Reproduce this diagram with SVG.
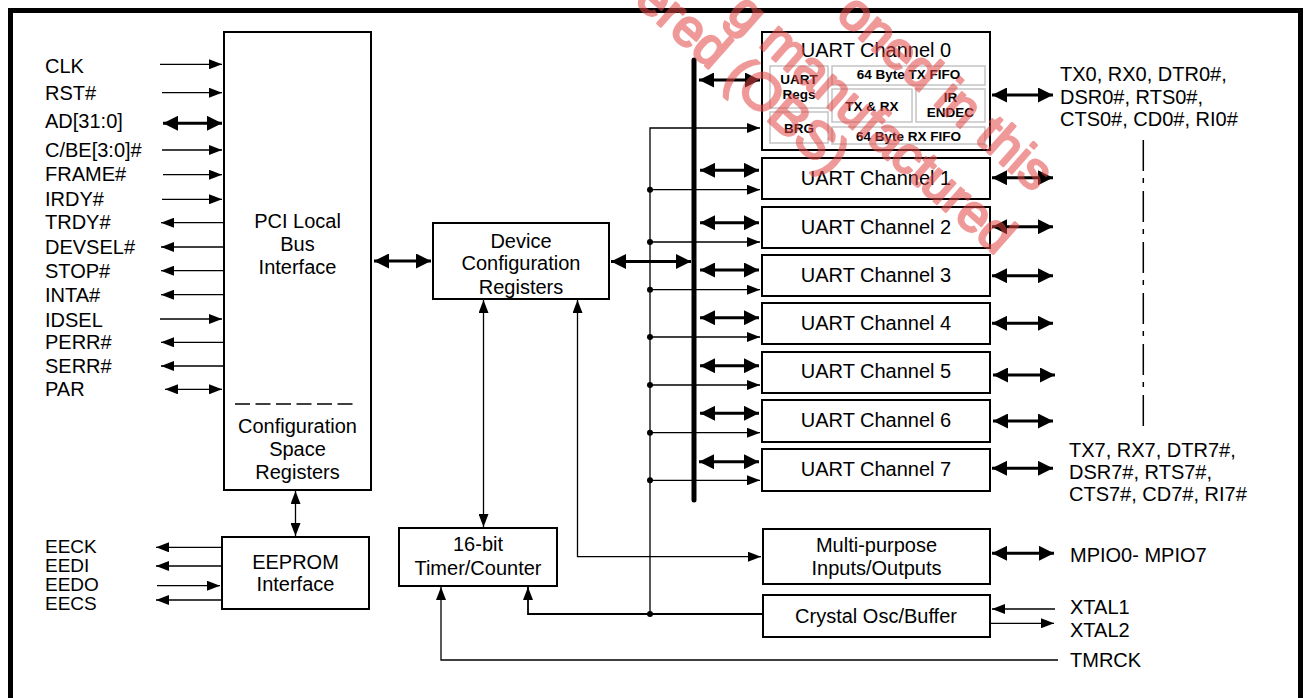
<svg xmlns="http://www.w3.org/2000/svg" width="1304" height="698" viewBox="0 0 1304 698">
<style>
.box{fill:#fff;stroke:#000;stroke-width:2}
.sub{fill:none;stroke:#c4c4c4;stroke-width:1.5}
.t{font-family:"Liberation Sans",Arial,sans-serif;font-size:20px;fill:#000}
.s{font-size:19px}
.c{text-anchor:middle}
.b{font-weight:bold;font-size:13.5px}
.ln{fill:none;stroke:#000;stroke-width:1.3}
.th{fill:none;stroke:#000;stroke-width:3}
.wm{font-family:"Liberation Sans",Arial,sans-serif;font-size:52px;fill:#e34646;stroke:#e34646;stroke-width:2.6;stroke-linejoin:round;text-anchor:end}
</style>
<defs>
<marker id="a" viewBox="0 0 13 10" refX="13" refY="5" markerWidth="13" markerHeight="10" markerUnits="userSpaceOnUse" orient="auto-start-reverse"><path d="M0,0 L13,5 L0,10 z" fill="#000"/></marker>
<marker id="ab" viewBox="0 0 15 15" refX="15" refY="7.5" markerWidth="15" markerHeight="15" markerUnits="userSpaceOnUse" orient="auto-start-reverse"><path d="M0,0 L15,7.5 L0,15 z" fill="#000"/></marker>
</defs>
<rect width="1304" height="698" fill="#fff"/>
<path d="M10.5,720 V10.5 H1300.5 V720" fill="none" stroke="#000" stroke-width="5"/>

<g id="pci">
<rect class="box" x="224" y="32" width="147" height="458"/>
<text class="t c" x="297.5" y="228">PCI Local</text>
<text class="t c" x="297.5" y="251">Bus</text>
<text class="t c" x="297.5" y="274">Interface</text>
<path d="M235,404 H358" stroke="#000" stroke-width="1.5" stroke-dasharray="15,5.5"/>
<text class="t c" x="297.5" y="433">Configuration</text>
<text class="t c" x="297.5" y="456">Space</text>
<text class="t c" x="297.5" y="479">Registers</text>
</g>

<g id="pins-left">
<text class="t" x="45" y="73">CLK</text>
<text class="t" x="45" y="100">RST#</text>
<text class="t" x="45" y="128">AD[31:0]</text>
<text class="t" x="45" y="157">C/BE[3:0]#</text>
<text class="t" x="45" y="181">FRAME#</text>
<text class="t" x="45" y="206">IRDY#</text>
<text class="t" x="45" y="229">TRDY#</text>
<text class="t" x="45" y="254">DEVSEL#</text>
<text class="t" x="45" y="278">STOP#</text>
<text class="t" x="45" y="302">INTA#</text>
<text class="t" x="45" y="327">IDSEL</text>
<text class="t" x="45" y="349">PERR#</text>
<text class="t" x="45" y="373">SERR#</text>
<text class="t" x="45" y="396">PAR</text>
<text class="t s" x="45" y="552.5">EECK</text>
<text class="t s" x="45" y="572">EEDI</text>
<text class="t s" x="45" y="591">EEDO</text>
<text class="t s" x="45" y="610">EECS</text>
</g>

<g id="dcr">
<rect class="box" x="433" y="223" width="176" height="76"/>
<text class="t c" x="521" y="248">Device</text>
<text class="t c" x="521" y="270">Configuration</text>
<text class="t c" x="521" y="294">Registers</text>
</g>

<g id="eeprom">
<rect class="box" x="222" y="537" width="147" height="72"/>
<text class="t c" x="295.5" y="568.5">EEPROM</text>
<text class="t c" x="295.5" y="591">Interface</text>
</g>

<g id="timer">
<rect class="box" x="399" y="528" width="158" height="58"/>
<text class="t c" x="478" y="551">16-bit</text>
<text class="t c" x="478" y="574.5">Timer/Counter</text>
</g>

<g id="uart0">
<rect class="box" x="762" y="32" width="228" height="118"/>
<text class="t c" x="876" y="57">UART Channel 0</text>
<rect class="sub" x="770" y="66" width="58" height="42"/>
<rect class="sub" x="770" y="112" width="58" height="31"/>
<rect class="sub" x="832" y="66" width="153" height="19"/>
<rect class="sub" x="832" y="89" width="80" height="33"/>
<rect class="sub" x="916" y="89" width="69" height="33"/>
<rect class="sub" x="832" y="127" width="153" height="17"/>
<text class="t b c" x="799" y="84">UART</text>
<text class="t b c" x="799" y="98.5">Regs</text>
<text class="t b c" x="799" y="132.5">BRG</text>
<text class="t b c" x="908.5" y="79">64 Byte TX FIFO</text>
<text class="t b c" x="872" y="110.5">TX &amp; RX</text>
<text class="t b c" x="950.5" y="102">IR</text>
<text class="t b c" x="950.5" y="117">ENDEC</text>
<text class="t b c" x="908.5" y="140.5">64 Byte RX FIFO</text>
</g>
<g id="uart1"><rect class="box" x="762" y="158" width="228" height="41"/><text class="t c" x="876" y="184.5">UART Channel 1</text></g>
<g id="uart2"><rect class="box" x="762" y="207" width="228" height="41"/><text class="t c" x="876" y="233.5">UART Channel 2</text></g>
<g id="uart3"><rect class="box" x="762" y="255" width="228" height="41"/><text class="t c" x="876" y="281.5">UART Channel 3</text></g>
<g id="uart4"><rect class="box" x="762" y="303" width="228" height="41"/><text class="t c" x="876" y="329.5">UART Channel 4</text></g>
<g id="uart5"><rect class="box" x="762" y="352" width="228" height="41"/><text class="t c" x="876" y="378">UART Channel 5</text></g>
<g id="uart6"><rect class="box" x="762" y="400" width="228" height="42"/><text class="t c" x="876" y="426.5">UART Channel 6</text></g>
<g id="uart7"><rect class="box" x="762" y="449" width="228" height="42"/><text class="t c" x="876" y="475.5">UART Channel 7</text></g>

<g id="mpio">
<rect class="box" x="763" y="529" width="227" height="55"/>
<text class="t c" x="876.5" y="551.5">Multi-purpose</text>
<text class="t c" x="876.5" y="574.5">Inputs/Outputs</text>
</g>
<g id="xtal">
<rect class="box" x="763" y="595" width="227" height="42"/>
<text class="t c" x="876" y="622.5">Crystal Osc/Buffer</text>
</g>

<g id="pins-right">
<text class="t" x="1060" y="81">TX0, RX0, DTR0#,</text>
<text class="t" x="1060" y="103.5">DSR0#, RTS0#,</text>
<text class="t" x="1060" y="126">CTS0#, CD0#, RI0#</text>
<text class="t" x="1069" y="456.5">TX7, RX7, DTR7#,</text>
<text class="t" x="1069" y="478.5">DSR7#, RTS7#,</text>
<text class="t" x="1069" y="500.5">CTS7#, CD7#, RI7#</text>
<text class="t" x="1070" y="561.5">MPIO0- MPIO7</text>
<text class="t" x="1070" y="613.5">XTAL1</text>
<text class="t" x="1070" y="636.5">XTAL2</text>
<text class="t" x="1070" y="666.5">TMRCK</text>
</g>

<g id="connectors">
<path class="ln" d="M160,64.3 H222" marker-end="url(#a)"/>
<path class="ln" d="M162,92.7 H222" marker-end="url(#a)"/>
<path class="th" d="M163,123.3 H222" marker-start="url(#ab)" marker-end="url(#ab)"/>
<path class="ln" d="M162,150 H222" marker-end="url(#a)"/>
<path class="ln" d="M163,174.7 H222" marker-end="url(#a)"/>
<path class="ln" d="M162,199.3 H222" marker-end="url(#a)"/>
<path class="ln" d="M224,222.7 H161" marker-end="url(#a)"/>
<path class="ln" d="M224,247 H161" marker-end="url(#a)"/>
<path class="ln" d="M224,270.7 H161" marker-end="url(#a)"/>
<path class="ln" d="M224,294.7 H161" marker-end="url(#a)"/>
<path class="ln" d="M160,319 H222" marker-end="url(#a)"/>
<path class="ln" d="M224,342.3 H161" marker-end="url(#a)"/>
<path class="ln" d="M224,366 H161" marker-end="url(#a)"/>
<path class="ln" d="M165,389.3 H222" marker-start="url(#a)" marker-end="url(#a)"/>

<path class="ln" d="M221,547.3 H156" marker-end="url(#a)"/>
<path class="ln" d="M221,566 H156" marker-end="url(#a)"/>
<path class="ln" d="M157,585.7 H220" marker-end="url(#a)"/>
<path class="ln" d="M221,600 H156" marker-end="url(#a)"/>
<path class="ln" d="M295.5,491 V536" marker-start="url(#a)" marker-end="url(#a)"/>

<path class="th" d="M374,261 H431" marker-start="url(#ab)" marker-end="url(#ab)"/>
<path class="th" d="M611,261.5 H691" marker-start="url(#ab)" marker-end="url(#ab)"/>

<path class="ln" d="M483.5,300 V527" marker-start="url(#a)" marker-end="url(#a)"/>
<path class="ln" d="M761,556.7 H577.5 V300" marker-start="url(#a)" marker-end="url(#a)"/>

<path class="ln" d="M650,614 V128 H760" marker-end="url(#a)"/>
<path class="ln" d="M650,189.7 H760" marker-end="url(#a)"/>
<path class="ln" d="M650,242 H760" marker-end="url(#a)"/>
<path class="ln" d="M650,289.7 H760" marker-end="url(#a)"/>
<path class="ln" d="M650,337 H760" marker-end="url(#a)"/>
<path class="ln" d="M650,385 H760" marker-end="url(#a)"/>
<path class="ln" d="M650,432.7 H760" marker-end="url(#a)"/>
<path class="ln" d="M650,480.3 H760" marker-end="url(#a)"/>
<path d="M528,587 V614 H762" fill="none" stroke="#000" stroke-width="1.8" marker-start="url(#a)"/>
<path class="ln" d="M441,587 V660 H1058" marker-start="url(#a)"/>
<g fill="#000">
<circle cx="650" cy="189.7" r="3"/>
<circle cx="650" cy="242" r="3"/>
<circle cx="650" cy="289.7" r="3"/>
<circle cx="650" cy="337" r="3"/>
<circle cx="650" cy="385" r="3"/>
<circle cx="650" cy="432.7" r="3"/>
<circle cx="650" cy="480.3" r="3"/>
<circle cx="650" cy="614" r="3"/>
</g>

<path d="M694,60 V500" stroke="#000" stroke-width="5" stroke-linecap="round"/>

<path class="th" d="M699,80 H760" marker-start="url(#ab)" marker-end="url(#ab)"/>
<path class="th" d="M700,170.3 H759" marker-start="url(#ab)" marker-end="url(#ab)"/>
<path class="th" d="M700,222.7 H759" marker-start="url(#ab)" marker-end="url(#ab)"/>
<path class="th" d="M700,270 H759" marker-start="url(#ab)" marker-end="url(#ab)"/>
<path class="th" d="M700,317.7 H759" marker-start="url(#ab)" marker-end="url(#ab)"/>
<path class="th" d="M700,365.7 H759" marker-start="url(#ab)" marker-end="url(#ab)"/>
<path class="th" d="M700,413.3 H759" marker-start="url(#ab)" marker-end="url(#ab)"/>
<path class="th" d="M699,461.7 H759" marker-start="url(#ab)" marker-end="url(#ab)"/>

<path class="th" d="M992,95 H1053" marker-start="url(#ab)" marker-end="url(#ab)"/>
<path class="th" d="M992,177.7 H1053" marker-start="url(#ab)" marker-end="url(#ab)"/>
<path class="th" d="M992,226.7 H1053" marker-start="url(#ab)" marker-end="url(#ab)"/>
<path class="th" d="M992,275.7 H1053" marker-start="url(#ab)" marker-end="url(#ab)"/>
<path class="th" d="M992,323.3 H1053" marker-start="url(#ab)" marker-end="url(#ab)"/>
<path class="th" d="M993,375 H1055" marker-start="url(#ab)" marker-end="url(#ab)"/>
<path class="th" d="M993,421 H1053" marker-start="url(#ab)" marker-end="url(#ab)"/>
<path class="th" d="M992,468.3 H1053" marker-start="url(#ab)" marker-end="url(#ab)"/>
<path class="th" d="M992,553.3 H1054" marker-start="url(#ab)" marker-end="url(#ab)"/>
<path class="ln" d="M1055,609 H992" marker-end="url(#a)"/>
<path class="ln" d="M990,623.3 H1054" marker-end="url(#a)"/>

<path d="M1143.3,140 V427" stroke="#000" stroke-width="1.5" stroke-dasharray="31,7,5,8"/>
</g>

<g id="watermark" opacity="0.55">
<text class="wm" transform="translate(1034,193) rotate(41.5)">oned in this</text>
<text class="wm" transform="translate(996,256) rotate(41.5)">g manufactured</text>
<text class="wm" transform="translate(830,176) rotate(41.5)">ered (OBS)</text>
</g>
</svg>
